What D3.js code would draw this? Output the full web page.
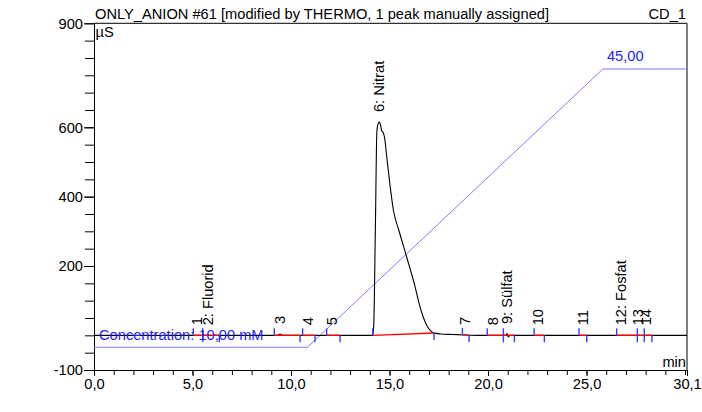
<!DOCTYPE html>
<html><head><meta charset="utf-8">
<script src="https://cdn.jsdelivr.net/npm/d3@7"></script>
<style>
html,body{margin:0;padding:0;background:#fff;}
svg{display:block;font-family:"Liberation Sans",Arial,sans-serif;font-size:14.67px;}
</style></head><body>
<svg id="chart" width="702" height="412"></svg>
<script>
// Conductivity trace (µS) against retention time (min)
const signalTime  = [0, 9.30, 9.44, 9.58, 14.15, 14.20, 14.28, 14.36, 14.42, 14.48, 14.55, 14.60, 14.68, 14.75, 14.85, 15.00, 15.20, 15.50, 15.87, 16.10, 16.29, 16.50, 16.65, 16.80, 16.97, 17.10, 17.22, 17.60, 18.20, 18.80, 19.50, 20.90, 20.97, 21.03, 21.10, 30.10];
const signalValue = [0, 0, 4, 0, 0, 30, 300, 590, 610, 615, 605, 590, 585, 570, 520, 445, 360, 298, 226, 181, 142, 92, 63, 40, 21, 12, 7, 4, 2.5, 1, 0, 0, 5, -5, 0, 0];

// Integrated peaks
const peakNumber = [1, 2, 3, 4, 5, 6, 7, 8, 9, 10, 11, 12, 13, 14];
const peakName   = ["", "Fluorid", "", "", "", "Nitrat", "", "", "Sülfat", "", "", "Fosfat", "", ""];
const peakTime   = [5.21, 5.80, 9.44, 10.88, 12.07, 14.48, 18.81, 20.24, 20.95, 22.55, 24.79, 26.74, 27.63, 28.02];
const peakStart  = [5.04, 5.52, 9.15, 10.59, 11.81, 14.15, 18.70, 19.96, 20.78, 22.34, 24.62, 26.53, 27.58, 27.93];
const peakEnd    = [5.52, 6.36, 10.46, 11.22, 12.49, 17.26, 19.04, 20.78, 21.34, 22.86, 25.01, 27.58, 27.93, 28.32];

// Eluent gradient (mM)
const gradientTime = [0, 10.83, 25.83, 30.1];
const gradientConc = [10, 10, 45, 45];

// Axis ticks
const timeTicks      = [0, 5, 10, 15, 20, 25, 30.1];
const timeTickLabels = ["0,0", "5,0", "10,0", "15,0", "20,0", "25,0", "30,1"];
const signalTicks    = [-100, 200, 400, 600, 900];

const titleText = "ONLY_ANION #61 [modified by THERMO, 1 peak manually assigned]";
const channelText = "CD_1";
const signalUnit = "µS";
const timeUnit = "min";

const svg = d3.select("#chart");
const x = d3.scaleLinear().domain([0, 30.1]).range([94, 687]);
const y = d3.scaleLinear().domain([-100, 900]).range([370, 23.3]);
const yConc = d3.scaleLinear().domain([10, 45]).range([347.3, 69]);

const signalAt = t => {
  const i = d3.bisectRight(signalTime, t);
  if (i <= 0) return signalValue[0];
  if (i >= signalTime.length) return signalValue[signalValue.length - 1];
  const t0 = signalTime[i - 1], t1 = signalTime[i];
  return signalValue[i - 1] + (signalValue[i] - signalValue[i - 1]) * (t - t0) / (t1 - t0);
};
const fmtComma = v => d3.format(".2f")(v).replace(".", ",");
const fmtInt = v => String(Math.round(v));   // plain hyphen for negatives

// frame: top and right borders
svg.append("line").attr("x1", x(0)).attr("x2", x(30.1)).attr("y1", y(900)).attr("y2", y(900))
  .attr("stroke", "#000").attr("stroke-width", 1);
svg.append("line").attr("x1", x(30.1)).attr("x2", x(30.1)).attr("y1", y(900)).attr("y2", y(-100))
  .attr("stroke", "#000").attr("stroke-width", 1);

// y axis: minor ticks every 50, labelled ticks
svg.append("g").attr("transform", `translate(${x(0)},0)`)
  .call(d3.axisLeft(y).tickValues(d3.range(-100, 901, 50)).tickSize(9).tickSizeOuter(0).tickFormat(""))
  .call(g => g.select(".domain").attr("stroke", "#000"));
svg.append("g").attr("transform", `translate(${x(0)},0)`)
  .call(d3.axisLeft(y).tickValues(signalTicks).tickSize(10).tickPadding(1).tickSizeOuter(0).tickFormat(fmtInt))
  .call(g => g.select(".domain").remove())
  .call(g => g.selectAll("text").attr("font-size", "14.67px").attr("font-family", "Liberation Sans, Arial, sans-serif").attr("fill", "#000"));

// x axis
svg.append("g").attr("transform", `translate(0,${y(-100)})`)
  .call(d3.axisBottom(x).tickValues(d3.range(0, 31, 1)).tickSize(5).tickSizeOuter(0).tickFormat(""))
  .call(g => g.select(".domain").attr("stroke", "#000"));
svg.append("g").attr("transform", `translate(0,${y(-100)})`)
  .call(d3.axisBottom(x).tickValues(timeTicks).tickSize(6).tickPadding(3).tickSizeOuter(0)
    .tickFormat((d, i) => timeTickLabels[i]))
  .call(g => g.select(".domain").remove())
  .call(g => g.selectAll("text").attr("font-size", "14.67px").attr("font-family", "Liberation Sans, Arial, sans-serif").attr("fill", "#000"));

// titles and units
svg.append("text").attr("x", 95).attr("y", 19).text(titleText);
svg.append("text").attr("x", x(30.1) - 1).attr("y", 19).attr("text-anchor", "end").text(channelText);
svg.append("text").attr("x", 95.5).attr("y", 36.5).text(signalUnit);
svg.append("text").attr("x", x(30.1) - 1).attr("y", 366.5).attr("text-anchor", "end").text(timeUnit);

// gradient profile
svg.append("path")
  .datum(d3.zip(gradientTime, gradientConc))
  .attr("fill", "none").attr("stroke", "#7d7dff").attr("stroke-width", 1)
  .attr("d", d3.line().x(d => x(d[0])).y(d => yConc(d[1])));
svg.append("text").attr("x", x(gradientTime[2]) + 4).attr("y", yConc(gradientConc[2]) - 8)
  .attr("fill", "#1f1fff").text(fmtComma(gradientConc[2]));

// signal trace
svg.append("path")
  .datum(d3.zip(signalTime, signalValue))
  .attr("fill", "none").attr("stroke", "#000").attr("stroke-width", 1.1)
  .attr("d", d3.line().x(d => x(d[0])).y(d => y(d[1])).curve(d3.curveMonotoneX));

// peak baselines
svg.append("g").selectAll("line").data(peakNumber).join("line")
  .attr("x1", (d, i) => x(peakStart[i])).attr("y1", (d, i) => y(signalAt(peakStart[i])))
  .attr("x2", (d, i) => x(peakEnd[i])).attr("y2", (d, i) => y(signalAt(peakEnd[i])))
  .attr("stroke", "#ff0000").attr("stroke-width", 1.4);

// peak start (up) and end (down) delimiters
const marks = [];
peakNumber.forEach((d, i) => {
  marks.push({t: peakStart[i], dir: -1});
  marks.push({t: peakEnd[i], dir: 1});
});
svg.append("g").selectAll("line").data(marks).join("line")
  .attr("x1", d => x(d.t)).attr("x2", d => x(d.t))
  .attr("y1", d => y(signalAt(d.t))).attr("y2", d => y(signalAt(d.t)) + d.dir * 7)
  .attr("stroke", "#3a3aff").attr("stroke-width", 1.4);

// concentration note
svg.append("text").attr("x", 99).attr("y", 340).attr("fill", "#1f1fff")
  .text("Concentration: " + fmtComma(gradientConc[0]) + " mM");

// peak labels
svg.append("g").selectAll("text").data(peakNumber).join("text")
  .attr("transform", (d, i) => `translate(${x(peakTime[i])},${y(Math.max(0, signalAt(peakTime[i]))) - 10}) rotate(-90)`)
  .attr("dy", "0.35em")
  .attr("fill", "#000")
  .text((d, i) => peakName[i] ? `${d}: ${peakName[i]}` : `${d}`);
</script>
</body></html>
